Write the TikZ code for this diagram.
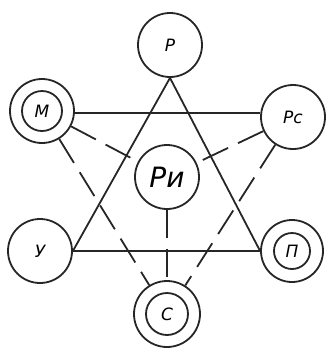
\documentclass[tikz,border=0pt]{standalone}
\usepackage{fontspec}
\setmainfont{DejaVu Sans}
\begin{document}
\begin{tikzpicture}[x=1pt,y=-1pt,
  lw/.style={line width=1.8pt, draw=black!85},
  lbl/.style={font=\itshape\fontsize{17}{17}\selectfont},
  nd/.style={circle, lw, minimum size=64pt, inner sep=0pt, lbl},
  inner/.style={circle, lw, minimum size=40pt, inner sep=0pt, lbl},
  dsh/.style={lw, dash pattern=on 28pt off 11pt}
]
\useasboundingbox (0,0) rectangle (325,349);
\node[nd] (P) at (170,45) {Р};
\node[nd] (M) at (42,111) {};
\node[inner] (Mi) at (42,111) {М};
\node[nd] (Pc) at (293,117) {Рс};
\node[nd, font=\itshape\fontsize{28}{28}\selectfont] (Ri) at (167,177) {Ри};
\node[nd] (U) at (40,251) {У};
\node[nd, minimum size=62pt] (Pi) at (292,251) {};
\node[inner, minimum size=36pt] (Pii) at (292,251) {П};
\node[nd, minimum size=66pt] (C) at (167,314) {};
\node[inner, minimum size=42pt] (Ci) at (167,314) {С};
% solid
\draw[lw] (P.south) -- (U.east) -- (Pi.west) -- cycle;
\draw[lw] (M.east |- 0,113) -- (Pc.west |- 0,113);
% dashed
\draw[dsh] (M) -- (Ri);
\draw[dsh] (Pc) -- (Ri);
\draw[dsh] (M) -- (C);
\draw[dsh] (Pc) -- (C);
\draw[dsh] (Ri) -- (C);
\end{tikzpicture}
\end{document}
